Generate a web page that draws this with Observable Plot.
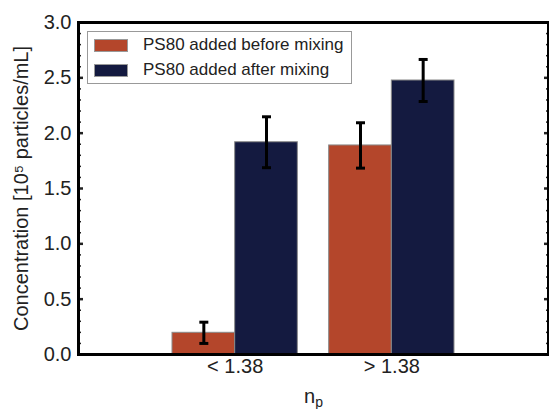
<!DOCTYPE html>
<html><head><meta charset="utf-8">
<script src="https://cdn.jsdelivr.net/npm/d3@7"></script>
<script src="https://cdn.jsdelivr.net/npm/@observablehq/plot@0.6"></script>
<style>
body{margin:0;background:#fff;}
#wrap{position:relative;width:549px;height:409px;font-family:"Liberation Sans",Arial,sans-serif;color:#222;}
#legend{position:absolute;left:87px;top:31px;width:265px;height:53px;border:1px solid #999;background:#fff;box-sizing:border-box;font-size:17px;}
.row{position:absolute;left:6px;height:14px;display:flex;align-items:center;white-space:nowrap;}
.sw{width:34px;height:13px;box-sizing:border-box;border:1px solid #999;margin-right:15px;}
#xlabel{position:absolute;left:304px;top:386px;font-size:20px;line-height:20px;}
#xlabel sub{font-size:14px;vertical-align:-4px;}
</style></head>
<body>
<div id="wrap"><div id="chart"></div>
<div id="legend"></div>
<div id="xlabel">n<sub>p</sub></div>
</div>
<script>
const categories = ["< 1.38", "> 1.38"];
const seriesNames = ["PS80 added before mixing", "PS80 added after mixing"];
const seriesColors = ["#b4462b", "#141a40"];
const before = [0.196, 1.889];
const beforeErr = [0.096, 0.205];
const after = [1.918, 2.476];
const afterErr = [0.230, 0.190];
const yMajor = [0, 0.5, 1.0, 1.5, 2.0, 2.5, 3.0];
const yMinor = d3.range(0, 31).map(d => d / 10).filter(d => Math.round(d * 10) % 5 !== 0);
const yLabel = "Concentration [10⁵ particles/mL]";

const values = [before, after];
const errs = [beforeErr, afterErr];
const barW = 0.4;
const table = [];
categories.forEach((c, i) => {
  seriesNames.forEach((s, k) => {
    const x1 = i + 1 - barW + k * barW;
    table.push({cat: c, series: s, x1, x2: x1 + barW, xc: x1 + barW / 2,
      value: values[k][i], lo: values[k][i] - errs[k][i], hi: values[k][i] + errs[k][i]});
  });
});

const capSymbol = {draw(ctx, size) { const r = 4.5; ctx.moveTo(-r, 0); ctx.lineTo(r, 0); }};

const chart = Plot.plot({
  width: 549, height: 409,
  marginLeft: 78, marginRight: 1, marginTop: 22, marginBottom: 55,
  style: {fontFamily: '"Liberation Sans", Arial, sans-serif', fontSize: "20px", color: "#222", background: "#fff"},
  x: {domain: [0, 3], axis: null},
  y: {domain: [0, 3], axis: null},
  color: {domain: seriesNames, range: seriesColors},
  marks: [
    Plot.rectY(table, {x1: "x1", x2: "x2", y1: 0, y2: "value", fill: "series", stroke: "#8a8a8a", strokeWidth: 1}),
    Plot.ruleX(table, {x: "xc", y1: "lo", y2: "hi", stroke: "black", strokeWidth: 3}),
    Plot.dot(table, {x: "xc", y: "lo", symbol: capSymbol, stroke: "black", strokeWidth: 3, r: 4}),
    Plot.dot(table, {x: "xc", y: "hi", symbol: capSymbol, stroke: "black", strokeWidth: 3, r: 4}),
    Plot.axisY(yMajor, {anchor: "left", tickSize: -5, tickPadding: 12, strokeWidth: 2.5, tickFormat: d => d.toFixed(1), fontSize: 20,
      label: yLabel, labelAnchor: "center", labelOffset: 65, labelArrow: "none"}),
    Plot.axisY(yMinor, {anchor: "left", tickSize: -3, strokeWidth: 1.5, tickFormat: () => "", label: null}),
    Plot.axisY(yMajor, {anchor: "right", tickSize: -5, strokeWidth: 2.5, tickFormat: () => "", label: null}),
    Plot.axisY(yMinor, {anchor: "right", tickSize: -3, strokeWidth: 1.5, tickFormat: () => "", label: null}),
    Plot.axisX([1, 2], {anchor: "bottom", tickSize: 0, tickPadding: 4, tickFormat: d => categories[d - 1], fontSize: 20, label: null}),
    Plot.frame({stroke: "black", strokeWidth: 3})
  ]
});
document.getElementById("chart").appendChild(chart);

const legend = document.getElementById("legend");
seriesNames.forEach((s, k) => {
  const row = document.createElement("div");
  row.className = "row";
  row.style.top = (k === 0 ? 6 : 31) + "px";
  const sw = document.createElement("div");
  sw.className = "sw";
  sw.style.background = seriesColors[k];
  const t = document.createElement("span");
  t.textContent = s;
  row.appendChild(sw); row.appendChild(t);
  legend.appendChild(row);
});
</script>
</body></html>
